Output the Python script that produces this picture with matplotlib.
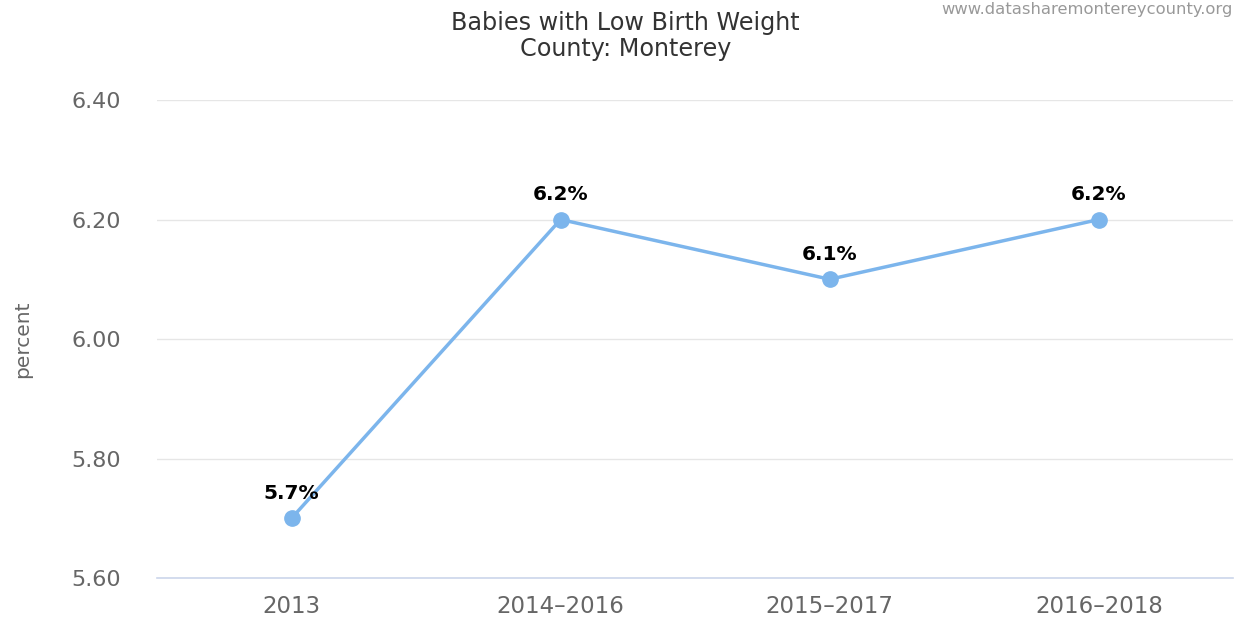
import matplotlib
matplotlib.use('Agg')
from matplotlib import pyplot as plt

periods = ['2013', '2014-2016', '2015-2017', '2016-2018']
pct = [5.7, 6.2, 6.1, 6.2]
yticks = [5.6, 5.8, 6.0, 6.2, 6.4]

fig = plt.figure(figsize=(12.38, 6.22), dpi=100)
ax = fig.add_axes([0.1268, 0.0707, 0.8695, 0.7685])

x = list(range(len(periods)))
ax.plot(x, pct, color='#7cb5ec', lw=2.5, marker='o', markersize=11, zorder=3)
for xi, v in zip(x, pct):
    ax.annotate(f'{v:.1f}%', (xi, v), xytext=(0, 11), textcoords='offset points',
                ha='center', va='bottom', fontsize=14.5, fontweight='bold', color='#000000')

ax.set_xlim(-0.5, 3.5)
ax.set_ylim(5.6, 6.4)
ax.set_yticks(yticks)
ax.set_yticklabels([f'{t:.2f}' for t in yticks])
ax.set_xticks(x)
ax.set_xticklabels([p.replace('-', '\u2013') for p in periods])
ax.tick_params(axis='both', length=0, labelcolor='#666666')
ax.tick_params(axis='y', pad=26, labelsize=16)
ax.tick_params(axis='x', pad=12, labelsize=16.5)
ax.grid(axis='y', color='#e6e6e6', lw=1)
ax.set_axisbelow(True)
for s in ['top', 'right', 'left']:
    ax.spines[s].set_visible(False)
ax.spines['bottom'].set_color('#ccd6eb')
ax.spines['bottom'].set_linewidth(1.2)

fig.text(0.018, 0.455, 'percent', rotation=90, ha='center', va='center', fontsize=14.5, color='#666666')
fig.text(0.505, 0.963, 'Babies with Low Birth Weight', ha='center', va='center', fontsize=17.2, color='#333333')
fig.text(0.505, 0.921, 'County: Monterey', ha='center', va='center', fontsize=17.2, color='#333333')
fig.text(0.996, 0.985, 'www.datasharemontereycounty.org', ha='right', va='center', fontsize=11.8, color='#999999')

plt.savefig('out.png', dpi=100)
plt.close()
